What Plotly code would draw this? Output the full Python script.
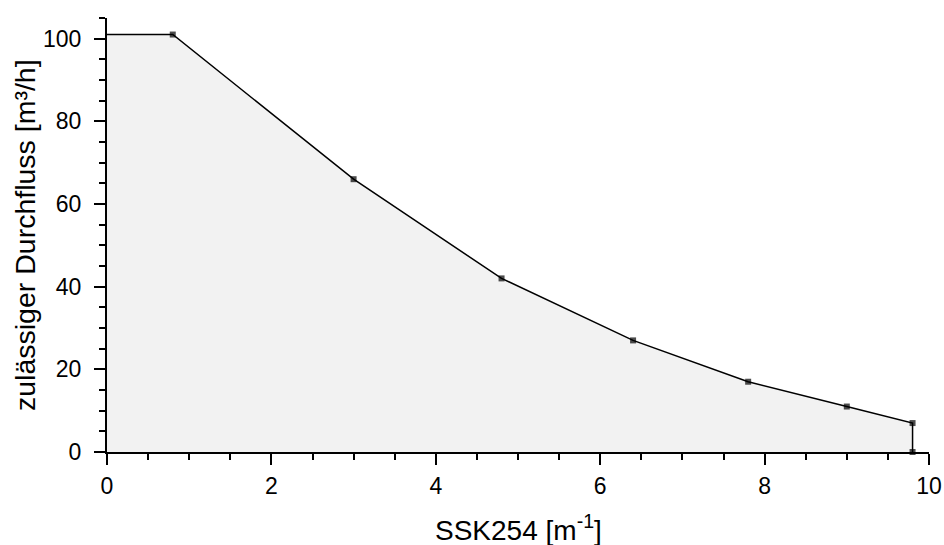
import plotly.graph_objects as go

ssk = [0, 0.8, 3.0, 4.8, 6.4, 7.8, 9.0, 9.8, 9.8]
flow = [101, 101, 66, 42, 27, 17, 11, 7, 0]
marker_sizes = [0, 6, 6, 6, 6, 6, 6, 6, 6]

x_title = "SSK254 [m<sup>-1</sup>]"
y_title = "zulässiger Durchfluss [m³/h]"

fig = go.Figure()
fig.add_trace(go.Scatter(
    x=ssk, y=flow, mode="lines+markers",
    fill="tozeroy", fillcolor="#f2f2f2",
    line=dict(color="black", width=1.5),
    marker=dict(symbol="square", size=marker_sizes, color="black", line=dict(width=0)),
    showlegend=False, cliponaxis=False, hoverinfo="skip",
))

font = "Liberation Sans, Arial, sans-serif"
axis_common = dict(
    showgrid=False, zeroline=False, automargin=False,
    showline=True, linecolor="black", linewidth=2,
    ticks="outside", ticklen=11, tickwidth=2, tickcolor="black",
    tickfont=dict(size=23, family=font, color="black"),
)
fig.update_layout(
    width=944, height=545,
    margin=dict(l=107, r=15, t=18, b=93),
    paper_bgcolor="white", plot_bgcolor="white",
    font=dict(family=font, color="black", size=23),
    xaxis=dict(range=[0, 10], dtick=2, tick0=0,
               minor=dict(dtick=0.5, ticks="outside", ticklen=6, tickwidth=2, tickcolor="black"),
               ticklabelstandoff=1, **axis_common),
    yaxis=dict(range=[0, 105], dtick=20, tick0=0,
               minor=dict(dtick=5, ticks="outside", ticklen=6, tickwidth=2, tickcolor="black"),
               ticklabelstandoff=8, **axis_common),
    annotations=[
        dict(text=x_title, xref="paper", yref="paper", x=0.5, y=0,
             xanchor="center", yanchor="middle", yshift=-76, showarrow=False,
             font=dict(size=28, family=font, color="black")),
        dict(text=y_title, xref="paper", yref="paper", x=0, y=0.5,
             xanchor="center", yanchor="middle", xshift=-82, textangle=-90, showarrow=False,
             font=dict(size=28.5, family=font, color="black")),
    ],
)

fig.write_html(
    "out.html",
    config={"displayModeBar": False},
    post_script="document.body.style.margin='0';document.body.style.overflow='hidden';",
)
